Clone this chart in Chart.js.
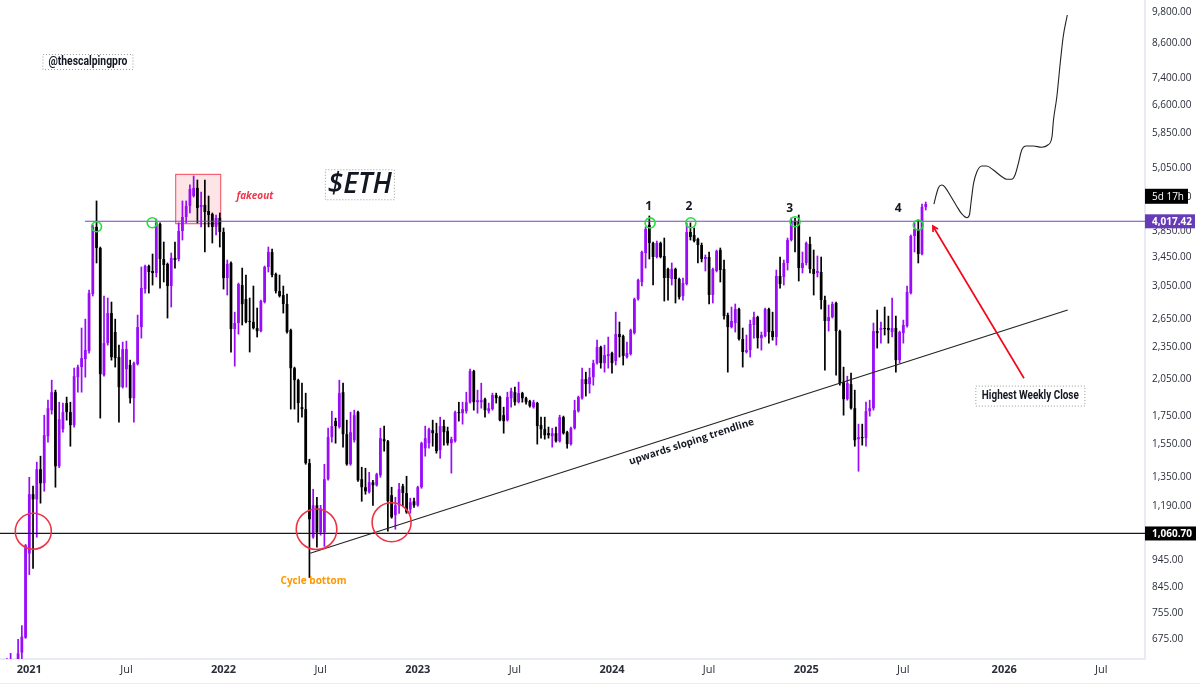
<!DOCTYPE html>
<html><head><meta charset="utf-8">
<style>html,body{margin:0;padding:0;background:#fff}#w{width:1200px;height:686px;position:relative}</style>
<script src="https://cdn.jsdelivr.net/npm/chart.js@4/dist/chart.umd.js"></script>
</head><body><div id="w"><canvas id="c"></canvas></div>
<script>
// Weekly ETH candles; week 0 is the first week of 2021.
const firstWeek = -6;
const opens = [596,604,612,620,638,680,
974,1254,1227,1395,1314,1606,1795,1938,1413,1655,
1850,1780,1684,2066,2157,2232,2309,2946,3922,3585,
2084,2389,2716,2505,2251,1980,2138,2176,1889,2185,
2558,3009,3320,3250,3222,3973,3421,3349,3048,3436,
3421,3855,4092,4290,4475,4632,4271,4308,4198,4145,
3922,4075,3839,3154,3363,2537,2603,3061,2883,2625,
2614,2548,2515,2847,3306,3524,3209,2983,2933,2823,
2526,2147,2040,1818,1803,1432,1044,1196,1066,1066,
1337,1600,1713,1670,1938,1620,1425,1579,1780,1337,
1292,1265,1320,1303,1360,1586,1572,1249,1147,1196,
1298,1260,1176,1217,1196,1292,1526,1559,1648,1627,
1513,1677,1641,1559,1572,1780,1772,1787,1857,2120,
1857,1857,1881,1787,1803,1914,1898,1757,1720,1889,
1938,1857,1930,1889,1865,1818,1850,1684,1655,1627,
1606,1627,1572,1742,1634,1553,1662,1787,1889,2049,
2006,2066,2194,2349,2194,2261,2290,2213,2483,2462,
2251,2280,2494,2883,3101,3509,3957,3662,3450,3662,
3465,3277,3141,3277,3141,2921,3074,3839,3790,3725,
3631,3421,3450,2933,3250,3554,3277,2693,2558,2603,
2763,2431,2300,2319,2581,2670,2441,2462,2763,2515,
2452,3181,3168,3363,3709,4023,4023,3291,3363,3647,
3277,3222,3236,2871,2625,2670,2835,2515,2023,1881,
2006,1810,1586,1600,1593,1787,1810,2515,2526,2548,
2548,2505,2548,2222,2494,2570,2958,3774,3888,3494,4271];
const highs = [622,636,617,675,716,1012,
1348,1298,1438,1475,1757,1873,2040,1955,1857,1850,
1898,1857,2147,2176,2548,2647,2996,3957,4382,3600,
2921,2896,2847,2647,2369,2400,2410,2222,2203,2693,
3306,3334,3334,3494,4057,3990,3678,3363,3509,3678,
3990,4382,4382,4692,4875,4792,4552,4792,4475,4163,
4127,4163,3905,3406,3378,2727,3087,3291,3195,2896,
3048,2775,2871,3320,3600,3570,3222,3195,3048,2946,
2537,2157,2049,2014,1930,1456,1281,1238,1196,1425,
1662,1787,1735,2040,2014,1720,1780,1795,1787,1407,
1401,1377,1331,1372,1662,1677,1579,1292,1238,1314,
1309,1354,1233,1233,1298,1566,1677,1662,1720,1698,
1742,1720,1670,1600,1787,1857,1857,1938,2138,2129,
1955,2014,1889,1850,1930,1930,1906,1818,1938,1972,
1980,2023,1938,1898,1873,1873,1857,1742,1742,1670,
1662,1670,1757,1750,1641,1670,1873,1906,2147,2111,
2147,2222,2420,2359,2369,2452,2300,2727,2614,2473,
2400,2537,2896,3141,3539,3922,4110,3678,3693,3678,
3741,3291,3363,3291,3154,3154,3990,3990,3905,3741,
3662,3480,3524,3291,3554,3585,3406,2716,2787,2823,
2775,2548,2473,2636,2727,2681,2505,2775,2775,2727,
3263,3450,3406,3741,4075,4075,4127,3524,3678,3757,
3554,3465,3450,2921,2811,2847,2847,2526,2157,2075,
2102,1955,1691,1691,1857,1873,2603,2751,2614,2787,
2681,2896,2681,2515,2636,3048,3790,3990,4040,4325,4362];
const lows = [591,596,596,612,622,678,
890,914,1044,1207,1270,1566,1765,1292,1405,1634,
1720,1539,1670,1938,1938,2066,2290,2921,3363,1735,
2075,2369,2222,2157,1705,1972,1980,1850,1705,2176,
2441,2958,2958,3061,3168,3022,3101,2659,2787,3291,
3392,3709,3990,4163,4455,3990,3922,3524,3922,3662,
3790,3600,3009,2933,2300,2166,2483,2581,2603,2300,
2537,2452,2505,2835,3236,3168,2958,2908,2716,2494,
1803,1803,1705,1742,1425,879,1039,1000,1053,1004,
1331,1566,1559,1662,1533,1419,1419,1566,1325,1217,
1254,1260,1196,1298,1348,1507,1071,1132,1080,1156,
1191,1156,1156,1186,1191,1286,1475,1526,1539,1494,
1462,1546,1546,1372,1566,1713,1691,1772,1850,1795,
1772,1810,1742,1772,1795,1850,1715,1627,1713,1818,
1834,1850,1857,1842,1818,1810,1553,1593,1586,1593,
1533,1566,1566,1620,1526,1546,1655,1780,1881,1906,
1930,1997,2185,2147,2111,2147,2102,2176,2251,2176,
2241,2270,2483,2871,3048,3291,3421,3061,3436,3436,
2859,2871,3061,2835,2883,2871,3061,3709,3678,3363,
3378,3250,2823,2835,3236,3101,2647,2111,2548,2505,
2420,2157,2290,2251,2441,2339,2319,2452,2389,2420,
2369,3022,3061,3263,3693,3524,3114,3222,3334,3222,
2933,3168,2763,2129,2515,2659,2084,1997,1757,1873,
1803,1539,1383,1546,1539,1750,1795,2339,2389,2473,
2389,2452,2111,2194,2389,2558,2946,3524,3363,3480,4216];
const closes = [612,617,604,636,683,1008,
1254,1227,1395,1314,1613,1810,1938,1413,1727,1780,
1780,1684,2075,2157,2241,2319,2958,3922,3585,2093,
2389,2716,2251,2241,1980,2329,2329,1889,2194,2558,
3022,3320,3236,3222,3990,3421,3334,3048,3436,3406,
3855,4092,4290,4612,4632,4253,4308,4181,4127,3922,
4075,3839,3154,3349,2537,2603,3074,2821,2614,2614,
2548,2515,2859,3306,3524,3195,2983,2921,2823,2505,
2147,2040,1850,1803,1432,1127,1196,1066,1181,1337,
1600,1677,1677,1930,1620,1425,1634,1757,1331,1292,
1270,1320,1303,1366,1593,1572,1217,1137,1196,1281,
1260,1161,1212,1196,1292,1559,1593,1655,1627,1507,
1677,1634,1559,1586,1780,1772,1803,1857,2120,1857,
1873,1873,1795,1810,1914,1889,1720,1713,1898,1947,
1857,1930,1889,1857,1826,1857,1677,1655,1613,1613,
1627,1572,1742,1627,1553,1662,1795,1898,2049,2006,
2066,2194,2349,2194,2270,2280,2194,2483,2452,2261,
2290,2526,2883,3127,3524,3888,3662,3450,3662,3450,
3154,3154,3277,3141,2908,3087,3839,3757,3693,3631,
3421,3450,2933,3277,3539,3263,2681,2558,2625,2763,
2431,2300,2319,2592,2670,2441,2473,2763,2505,2452,
3181,3074,3363,3709,4023,3957,3291,3363,3662,3277,
3209,3250,2871,2625,2670,2823,2515,2014,1881,2014,
1810,1579,1600,1593,1787,1810,2515,2494,2548,2537,
2526,2548,2222,2505,2581,2971,3774,3888,3494,4271,4325];
const weeks = opens.map((_, k) => firstWeek + k);

const yTickValues = [9800,8600,7400,6600,5850,5050,4450,3850,3450,3050,2650,2350,2050,1750,1550,1350,1190,945,845,755,675];
const xTickWeeks = [0,26,52,78,104,130,156,182,208,234,261,287];
const xTickLabels = ['2021','Jul','2022','Jul','2023','Jul','2024','Jul','2025','Jul','2026','Jul'];

const resistance = 4017.42, support = 1060.70;
const resistanceFromWeek = 14.9;
const trendWeeks = [75.2, 278], trendPrices = [975, 2751];
const forecastWeeks = [242.2,242.8,243.4,244.3,245.2,246.5,248.3,249.6,251,251.7,252.1,252.8,253.7,255,256.3,258.1,260.4,261.7,263,263.9,264.8,265.7,266.9,268.8,271,272.7,273.8,274.2,275.1,276,276.8,277.9];
const forecastPrices = [4325,4495,4637,4690,4645,4495,4285,4150,4080,4130,4340,4725,4964,5086,5086,5000,4859,4806,4806,4895,5145,5446,5539,5539,5509,5563,5763,6189,6836,7883,8830,9686];
const redCircleWeeks = [1.07, 76.9, 97], redCirclePrices = [1071, 1080, 1113], redCircleRadii = [18, 20.3, 19.5];
const greenCircleWeeks = [18, 32.9, 166.2, 177.1, 205, 238], greenCirclePrices = [3925, 3993, 3990, 3993, 4010, 3955];

const isUp = k => closes[k] >= opens[k];
const PURPLE = '#9a0cf8', BLACK = '#000000';
function barSet(up, lowArr, highArr, isBody) {
  const data = [];
  weeks.forEach((w, k) => { if (isUp(k) === up) data.push({x: w, y: [lowArr(k), highArr(k)]}); });
  const base = {type: 'bar', grouped: false, data, borderWidth: 0, borderSkipped: false, backgroundColor: up ? PURPLE : BLACK};
  return isBody ? Object.assign(base, {barPercentage: 0.74, categoryPercentage: 1, order: 5})
                : Object.assign(base, {barPercentage: 1, categoryPercentage: 1, maxBarThickness: 1.05, order: 6});
}
const wickSets = [true, false].map(u => barSet(u, k => lows[k], k => highs[k], false));
const bodySets = [true, false].map(u => barSet(u, k => Math.min(opens[k], closes[k]), k => Math.max(opens[k], closes[k]), true));
const ringSet = (xs, ys, r, color, lw) => ({type: 'line', showLine: false, order: 1,
  data: xs.map((x, k) => ({x, y: ys[k]})), pointRadius: r, pointBorderColor: color, pointBorderWidth: lw, pointBackgroundColor: 'transparent', pointHoverRadius: r});
const lineSet = (xs, ys, color, w, extra) => Object.assign({type: 'line', order: 2, data: xs.map((x, k) => ({x, y: ys[k]})), borderColor: color, borderWidth: w, pointRadius: 0, fill: false}, extra || {});

const X_MIN = -7.845, X_MAX = 298.7, Y_MIN = 620.9, Y_MAX = 10327;

const notes = [
  {t: 'fakeout', w: 60.4, p: 4475, font: 'italic bold 10px "Open Sans"', c: '#f2364a'},
  {t: '$ETH', w: 88.5, p: 4695, font: 'italic 600 28px "Open Sans"', c: '#131722', box: [69, 30]},
  {t: '@thescalpingpro', w: 15.7, p: 7926, font: 'bold 12px Roboto', c: '#131722', box: [90, 15], fit: 79},
  {t: 'Cycle bottom', w: 76.1, p: 865, font: 'bold 10px "Open Sans"', c: '#ff9800'},
  {t: '1', w: 165.8, p: 4272, font: 'bold 12px "Open Sans"', c: '#131722'},
  {t: '2', w: 176.6, p: 4272, font: 'bold 12px "Open Sans"', c: '#131722'},
  {t: '3', w: 203.6, p: 4235, font: 'bold 12px "Open Sans"', c: '#131722'},
  {t: '4', w: 232.6, p: 4235, font: 'bold 12px "Open Sans"', c: '#131722'},
  {t: 'Highest Weekly Close', w: 268, p: 1906, font: 'bold 12px Roboto', c: '#131722', box: [109, 20], fit: 97},
  {t: 'upwards sloping trendline', w: 177.3, p: 1568, font: 'bold 10px "Open Sans"', c: '#131722', rot: -18}
];
const fakeoutBox = {w0: 39.2, w1: 51.25, p0: 3976, p1: 4909};
const arrow = {w0: 266.3, p0: 2057, w1: 241.9, p1: 3938};
const priceTags = [
  {t: '5d 17h', p: 4470, bg: '#000', w: 43, h: 15},
  {t: '4,017.42', p: resistance, bg: '#673ab7', w: 50, h: 14, bold: true},
  {t: '1,060.70', p: support, bg: '#000', w: 51, h: 14, bold: true}
];

const annotate = {
  id: 'annotate',
  beforeDatasetsDraw(ch) {
    const {ctx, scales: {x, y}} = ch;
    const l = x.getPixelForValue(fakeoutBox.w0), r = x.getPixelForValue(fakeoutBox.w1);
    const t = y.getPixelForValue(fakeoutBox.p1), b = y.getPixelForValue(fakeoutBox.p0);
    ctx.save();
    ctx.fillStyle = 'rgba(242,54,69,0.13)'; ctx.fillRect(l, t, r - l, b - t);
    ctx.strokeStyle = '#f2465a'; ctx.lineWidth = 1; ctx.strokeRect(l, t, r - l, b - t);
    ctx.restore();
  },
  afterDraw(ch) {
    const {ctx, chartArea: a, scales: {x, y}} = ch;
    ctx.save();
    // bottom rule of the date strip
    ctx.fillStyle = '#eceef4'; ctx.fillRect(0, a.bottom + 24, ch.width, 1);
    // arrow
    const x0 = x.getPixelForValue(arrow.w0), y0 = y.getPixelForValue(arrow.p0);
    const x1 = x.getPixelForValue(arrow.w1), y1 = y.getPixelForValue(arrow.p1);
    const ang = Math.atan2(y1 - y0, x1 - x0);
    ctx.strokeStyle = '#f4091c'; ctx.lineWidth = 1.7;
    ctx.beginPath(); ctx.moveTo(x0, y0); ctx.lineTo(x1, y1);
    ctx.moveTo(x1 - 6 * Math.cos(ang - 0.5), y1 - 6 * Math.sin(ang - 0.5)); ctx.lineTo(x1, y1);
    ctx.lineTo(x1 - 6 * Math.cos(ang + 0.5), y1 - 6 * Math.sin(ang + 0.5)); ctx.stroke();
    // text notes
    ctx.textAlign = 'center'; ctx.textBaseline = 'middle';
    notes.forEach(n => {
      const px = x.getPixelForValue(n.w), py = y.getPixelForValue(n.p);
      ctx.save(); ctx.translate(px, py);
      if (n.rot) ctx.rotate(n.rot * Math.PI / 180);
      if (n.box) {
        ctx.setLineDash([1, 2]); ctx.strokeStyle = '#9a9a9a'; ctx.lineWidth = 1;
        ctx.strokeRect(-n.box[0] / 2, -n.box[1] / 2, n.box[0], n.box[1]);
        ctx.setLineDash([]);
      }
      ctx.font = n.font; ctx.fillStyle = n.c;
      if (n.fit) ctx.scale(n.fit / ctx.measureText(n.t).width, 1);
      ctx.fillText(n.t, 0, 0);
      ctx.restore();
    });
    // price tags on the axis
    ctx.textAlign = 'left';
    priceTags.forEach(g => {
      const py = y.getPixelForValue(g.p);
      ctx.fillStyle = g.bg;
      ctx.fillRect(a.right, py - g.h / 2, g.w, g.h);
      ctx.fillStyle = '#fff';
      ctx.font = (g.bold ? 'bold ' : '') + '10px "Open Sans"';
      ctx.fillText(g.t, a.right + 7, py + 0.5);
    });
    ctx.restore();
  }
};

new Chart(document.getElementById('c'), {
  data: {datasets: [
    ...wickSets, ...bodySets,
    lineSet([resistanceFromWeek, X_MAX], [resistance, resistance], '#6f46c1', 1.1),
    lineSet([X_MIN, X_MAX], [support, support], '#1a1a1a', 1.2),
    lineSet(trendWeeks, trendPrices, '#222', 1.1),
    lineSet(forecastWeeks, forecastPrices, '#222', 1.1, {cubicInterpolationMode: 'monotone'}),
    ringSet(redCircleWeeks, redCirclePrices, redCircleRadii, '#ee3344', 1.6),
    ringSet(greenCircleWeeks, greenCirclePrices, 5, '#22e23a', 1.6)
  ]},
  plugins: [annotate],
  options: {
    responsive: true, maintainAspectRatio: false, animation: false,
    devicePixelRatio: 1,
    layout: {padding: 0, autoPadding: false},
    plugins: {legend: {display: false}, tooltip: {enabled: false}},
    scales: {
      x: {
        type: 'linear', min: X_MIN, max: X_MAX, offset: false,
        grid: {display: false, drawTicks: false},
        border: {display: true, color: '#e9ebf2', width: 2},
        afterBuildTicks: s => { s.ticks = xTickWeeks.map(v => ({value: v})); },
        afterFit: s => { s.height = 27; s.paddingLeft = 0; s.paddingRight = 0; },
        ticks: {
          autoSkip: false, maxRotation: 0, padding: 4, color: '#2a2e39',
          font: c => ({family: '"Open Sans"', size: 11, weight: (xTickLabels[c.index] || '').length === 4 ? 'bold' : 'normal'}),
          callback: (v, i) => xTickLabels[i]
        }
      },
      y: {
        type: 'logarithmic', position: 'right', min: Y_MIN, max: Y_MAX,
        grid: {display: false, drawTicks: false},
        border: {display: true, color: '#e9ebf2', width: 2},
        afterBuildTicks: s => { s.ticks = yTickValues.map(v => ({value: v})); },
        afterFit: s => { s.width = 55; s.paddingTop = 0; s.paddingBottom = 0; },
        ticks: {
          autoSkip: false, padding: 7, color: '#2a2e39',
          font: {family: '"Open Sans"', size: 10},
          callback: v => Number(v).toLocaleString('en-US', {minimumFractionDigits: 2, maximumFractionDigits: 2})
        }
      }
    }
  }
});
</script></body></html>
